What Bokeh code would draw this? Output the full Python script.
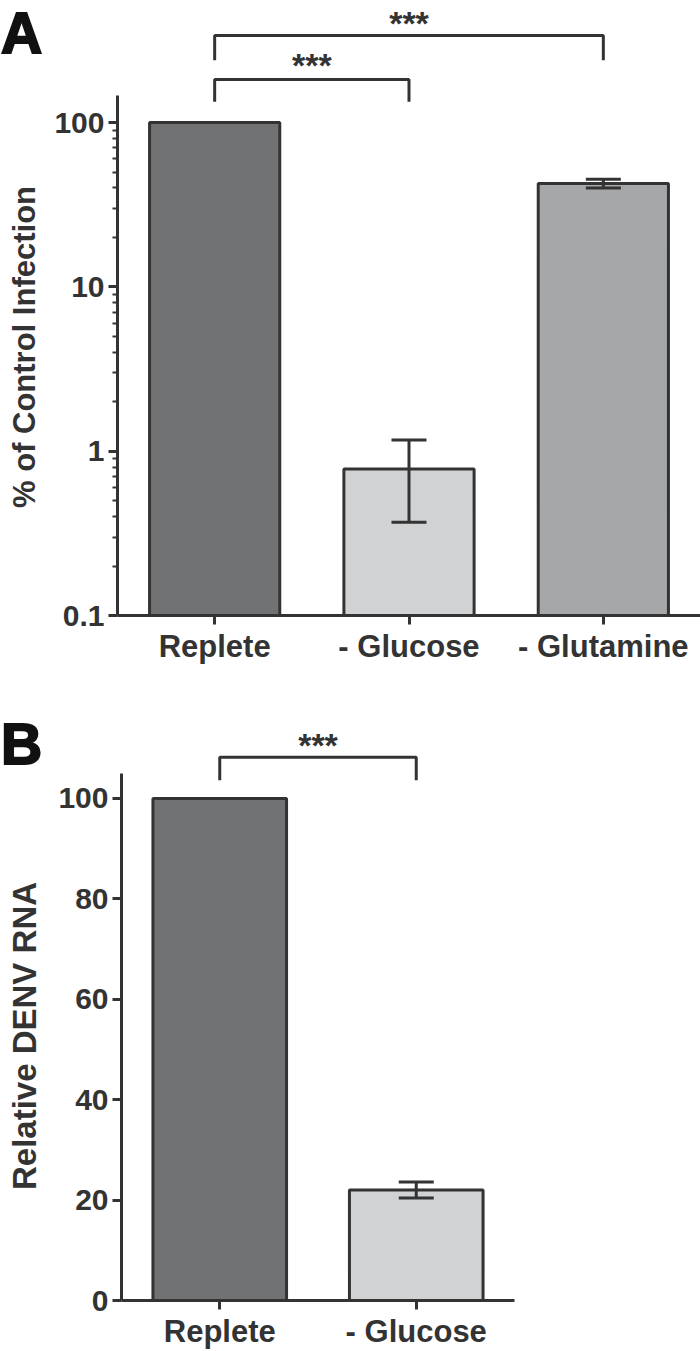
from bokeh.plotting import figure
from bokeh.models import (FactorRange, Range1d, FixedTicker, Whisker, TeeHead,
                          ColumnDataSource, Div, BasicTickFormatter)
from bokeh.core.properties import value
from bokeh.transform import dodge
from bokeh.embed import file_html
from bokeh.resources import INLINE

# ---------------- Panel A data ----------------
a_categories = ["Replete", "- Glucose", "- Glutamine"]
a_values = [100.0, 0.78, 42.5]
a_err_upper = [100.0, 1.17, 45.1]
a_err_lower = [100.0, 0.37, 39.9]
a_colors = ["#717274", "#d1d2d4", "#a6a7a9"]
a_ticks = [0.1, 1, 10, 100]
a_tick_labels = ["0.1", "1", "10", "100"]
a_ylabel = "% of Control Infection"

# ---------------- Panel B data ----------------
b_categories = ["Replete", "- Glucose"]
b_values = [100.0, 22.0]
b_err_upper = [100.0, 23.6]
b_err_lower = [100.0, 20.4]
b_colors = ["#717274", "#d1d2d4"]
b_ticks = [0, 20, 40, 60, 80, 100]
b_tick_labels = ["0", "20", "40", "60", "80", "100"]
b_ylabel = "Relative DENV RNA"

FONT = "Liberation Sans"
TXT = "#333333"
LINE = "#333333"


def style_axes(p):
    for ax in (p.xaxis[0], p.yaxis[0]):
        ax.axis_line_width = 3
        ax.axis_line_color = LINE
        ax.major_tick_line_width = 3
        ax.major_tick_line_color = LINE
        ax.major_tick_in = 0
        ax.major_tick_out = 9
        ax.minor_tick_in = 0
        ax.minor_tick_out = 5
        ax.minor_tick_line_width = 2
        ax.minor_tick_line_color = LINE
        ax.major_label_text_font = FONT
        ax.major_label_text_font_style = "bold"
        ax.major_label_text_color = TXT
        ax.major_label_standoff = 4
    p.xaxis.major_label_text_font_size = "31px"
    p.yaxis.major_label_text_font_size = "30px"
    p.xgrid.visible = False
    p.ygrid.visible = False
    p.outline_line_color = None


def bars(p, cats, vals, colors, bottom, width):
    src = ColumnDataSource(dict(x=cats, top=vals, color=colors))
    p.vbar(x="x", top="top", bottom=bottom, width=width, source=src,
           fill_color="color", line_color=LINE, line_width=3)


def errors(p, cats, upper, lower):
    keep = [i for i in range(len(cats)) if upper[i] != lower[i]]
    src = ColumnDataSource(dict(x=[cats[i] for i in keep],
                                upper=[upper[i] for i in keep],
                                lower=[lower[i] for i in keep]))
    w = Whisker(base="x", upper="upper", lower="lower", source=src,
                dimension="height", line_width=3, line_color=LINE,
                level="overlay",
                upper_head=TeeHead(size=35, line_width=3, line_color=LINE),
                lower_head=TeeHead(size=35, line_width=3, line_color=LINE))
    p.add_layout(w)


def bracket(p, left, right, top, drop, star_y, stars_x_dodge, stars_factor):
    p.line(x=[left, left, right, right], y=[drop, top, top, drop],
           line_width=3, line_color=LINE)
    src = ColumnDataSource(dict(x=[stars_factor], y=[star_y], t=["***"]))
    p.text(x=dodge("x", stars_x_dodge, range=p.x_range), y="y", text="t",
           source=src, text_font=value(FONT), text_font_style="bold",
           text_font_size="34px", text_color=TXT, text_align="center",
           text_baseline="alphabetic")


def panel_letter(letter, top):
    html = ("<div style=\"font-family:'Liberation Sans';font-weight:bold;"
            "font-size:57px;line-height:56px;color:#111111;"
            "-webkit-text-stroke:2px #111111;\">%s</div>" % letter)
    return Div(text=html, width=60, height=60,
               styles={"position": "absolute", "left": "1px",
                       "top": "%dpx" % top, "margin": "0px"})


def y_title(text, cx, cy, size):
    w, h = 420, 40
    html = ("<div style=\"width:%dpx;height:%dpx;line-height:%dpx;"
            "text-align:center;white-space:nowrap;"
            "transform:rotate(-90deg);transform-origin:50%% 50%%;"
            "font-family:'Liberation Sans';font-weight:bold;"
            "font-size:%dpx;color:%s;\">%s</div>" % (w, h, h, size, TXT, text))
    return Div(text=html, width=w, height=h,
               styles={"position": "absolute", "left": "%dpx" % (cx - w // 2),
                       "top": "%dpx" % (cy - h // 2), "margin": "0px"})


# ---------------- Figure A ----------------
pA = figure(width=700, height=678,
            x_range=FactorRange(factors=a_categories, range_padding=0),
            y_axis_type="log", y_range=Range1d(0.1, 553),
            output_backend="svg", toolbar_location=None,
            min_border_left=117, min_border_right=0,
            min_border_top=0, min_border_bottom=63)
style_axes(pA)
minorA = [m * d for d in (0.1, 1, 10) for m in range(2, 10)]
pA.yaxis.ticker = FixedTicker(ticks=a_ticks, minor_ticks=minorA)
pA.yaxis.formatter = BasicTickFormatter()
pA.yaxis.major_label_overrides = {t: l for t, l in zip(a_ticks, a_tick_labels)}
pA.yaxis.bounds = (0.1, 146)

bars(pA, a_categories, a_values, a_colors, 0.1, 0.67)
errors(pA, a_categories, a_err_upper, a_err_lower)
bracket(pA, "Replete", "- Glutamine", 339, 239, 401, 0.0, "- Glucose")
bracket(pA, "Replete", "- Glucose", 183, 134, 225, 0.5, "Replete")

# ---------------- Figure B ----------------
pB = figure(width=700, height=673,
            x_range=FactorRange(factors=b_categories, range_padding=0),
            y_range=Range1d(0, 119.5),
            output_backend="svg", toolbar_location=None,
            min_border_left=121, min_border_right=186,
            min_border_top=22, min_border_bottom=50)
style_axes(pB)
pB.yaxis.ticker = FixedTicker(ticks=b_ticks, minor_ticks=[])
pB.yaxis.major_label_overrides = {t: l for t, l in zip(b_ticks, b_tick_labels)}
pB.yaxis.bounds = (0, 105)

bars(pB, b_categories, b_values, b_colors, 0, 0.68)
errors(pB, b_categories, b_err_upper, b_err_lower)
bracket(pB, "Replete", "- Glucose", 108.2, 103.6, 110.7, 0.5, "Replete")

roots = [pA, pB,
         panel_letter("A", 5), panel_letter("B", 716),
         y_title(a_ylabel, 25, 347, 31), y_title(b_ylabel, 25, 1036, 33)]
open("out.html", "w").write(file_html(roots, INLINE))
